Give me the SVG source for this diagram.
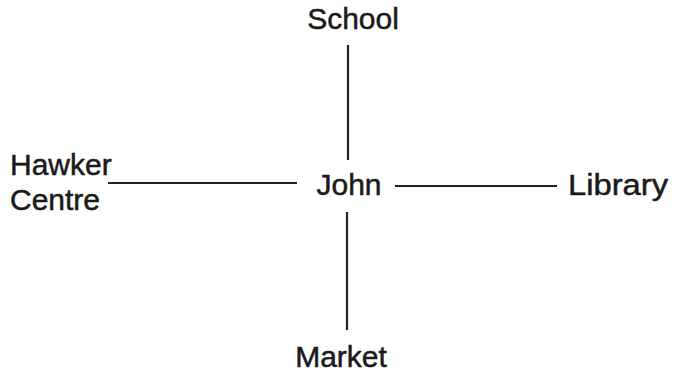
<svg xmlns="http://www.w3.org/2000/svg" width="675" height="378" viewBox="0 0 675 378">
<style>
text{font-family:"Liberation Sans",Arial,sans-serif;font-size:30px;fill:#1a1a1a;stroke:#1a1a1a;stroke-width:0.5}
.c line{stroke:#222;stroke-width:2.2}
</style>
<rect width="675" height="378" fill="#fff"/>
<g class="c" id="connectors">
<line x1="348" y1="45" x2="348" y2="160"/>
<line x1="347" y1="212" x2="347" y2="330"/>
<line x1="108" y1="183" x2="297" y2="183"/>
<line x1="395" y1="186" x2="557" y2="186"/>
</g>
<g id="school"><text x="353" y="29" text-anchor="middle">School</text></g>
<g id="john"><text x="349" y="195" text-anchor="middle">John</text></g>
<g id="hawker"><text x="10" y="175">Hawker</text><text x="10" y="210">Centre</text></g>
<g id="library"><text x="568" y="195" textLength="100" lengthAdjust="spacingAndGlyphs">Library</text></g>
<g id="market"><text x="341" y="367" text-anchor="middle">Market</text></g>
</svg>
